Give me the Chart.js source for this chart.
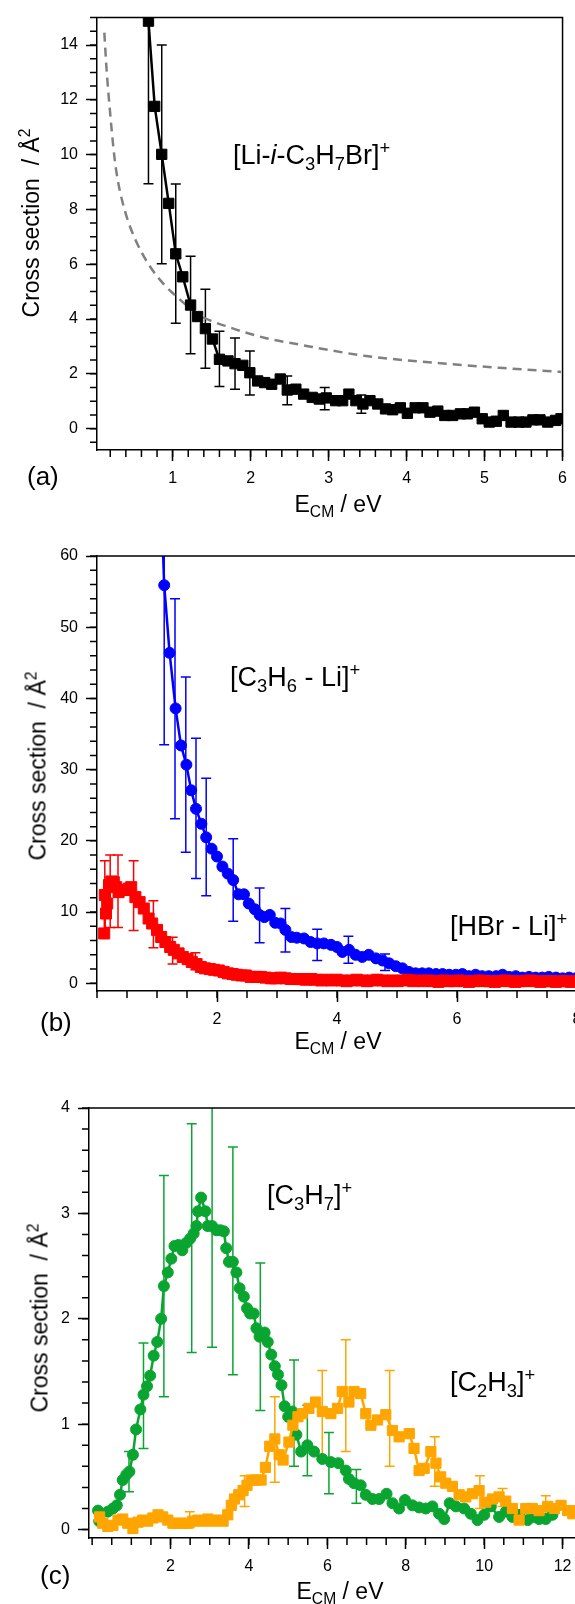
<!DOCTYPE html>
<html>
<head>
<meta charset="utf-8">
<script src="https://cdn.jsdelivr.net/npm/chart.js@4.4.0/dist/chart.umd.min.js"></script>
<style>
  body { margin: 0; width: 575px; height: 1604px; overflow: hidden; position: relative; background: #fff; }
  canvas { position: absolute; left: 0; }
  .t { position: absolute; font-family: 'Liberation Sans', Arial, sans-serif; color: #000; white-space: nowrap; line-height: 1; }
  .ann { font-size: 27px; }
  .ttl { font-size: 23px; }
  .lbl { font-size: 26px; }
  .sb { position: relative; top: 0.3em; font-size: 0.68em; }
  .sp { position: relative; top: -0.55em; font-size: 0.68em; }
  .ytl { transform: translate(-50%, -50%) rotate(-90deg); }
  .xtl { transform: translateX(-50%); }
</style>
</head>
<body>
<canvas id="ca" width="575" height="520" style="top:0"></canvas>
<canvas id="cb" width="640" height="540" style="top:520px"></canvas>
<canvas id="cc" width="660" height="544" style="top:1060px"></canvas>

<!-- panel (a) texts -->
<div class="t ann" style="left:233px;top:142px">[Li-<i>i</i>-C<span class="sb">3</span>H<span class="sb">7</span>Br]<span class="sp">+</span></div>
<div class="t ttl ytl" style="left:31px;top:223px">Cross section&nbsp; / Å<span class="sp">2</span></div>
<div class="t ttl xtl" style="left:338px;top:493px">E<span class="sb">CM</span> / eV</div>
<div class="t lbl" style="left:27px;top:463px">(a)</div>

<!-- panel (b) texts -->
<div class="t ann" style="left:230px;top:664px">[C<span class="sb">3</span>H<span class="sb">6</span> - Li]<span class="sp">+</span></div>
<div class="t ann" style="left:450px;top:913px">[HBr - Li]<span class="sp">+</span></div>
<div class="t ttl ytl" style="left:38px;top:766px">Cross section&nbsp; / Å<span class="sp">2</span></div>
<div class="t ttl xtl" style="left:338px;top:1030px">E<span class="sb">CM</span> / eV</div>
<div class="t lbl" style="left:40px;top:1009px">(b)</div>

<!-- panel (c) texts -->
<div class="t ann" style="left:267px;top:1182px">[C<span class="sb">3</span>H<span class="sb">7</span>]<span class="sp">+</span></div>
<div class="t ann" style="left:450px;top:1369px">[C<span class="sb">2</span>H<span class="sb">3</span>]<span class="sp">+</span></div>
<div class="t ttl ytl" style="left:40px;top:1318px">Cross section&nbsp; / Å<span class="sp">2</span></div>
<div class="t ttl xtl" style="left:340px;top:1580px">E<span class="sb">CM</span> / eV</div>
<div class="t lbl" style="left:40px;top:1562px">(c)</div>

<script>
// ---------- panel (a): [Li-i-C3H7Br]+ ----------
const eA = [0.69,0.77,0.86,0.95,1.04,1.13,1.23,1.32,1.42,1.51,1.60,1.71,1.80,1.90,1.99,2.09,2.18,2.27,2.38,2.47,
  2.58,2.68,2.79,2.88,2.97,3.09,3.18,3.26,3.35,3.44,3.53,3.63,3.73,3.82,3.92,4.01,4.11,4.21,4.30,4.40,
  4.49,4.59,4.69,4.78,4.87,4.97,5.06,5.15,5.24,5.34,5.44,5.53,5.62,5.71,5.81,5.91,5.98];
const sA = [14.87,11.76,10.01,8.22,6.38,5.54,4.51,4.09,3.65,3.27,2.53,2.47,2.37,2.31,2.04,1.74,1.68,1.62,1.81,1.41,
  1.44,1.26,1.14,1.08,1.12,1.02,1.02,1.26,1.02,0.90,1.02,0.90,0.72,0.69,0.76,0.56,0.76,0.76,0.60,0.64,
  0.48,0.48,0.54,0.54,0.60,0.36,0.24,0.27,0.48,0.24,0.24,0.24,0.32,0.32,0.24,0.30,0.36];
const errXA  = [0.69,0.86,1.04,1.23,1.42,1.60,1.80,1.99,2.47,2.95,3.42];
const errLoA = [8.94,6.02,3.85,2.73,2.20,1.54,1.44,1.23,0.87,0.69,0.56];
const errHiA = [20.8,14.0,8.93,6.29,5.09,3.55,3.31,2.83,1.92,1.50,1.23];
const eFitA = [0.124,0.154,0.188,0.25,0.295,0.403,0.53,0.70,0.915,1.0,1.34,1.77,2.20,2.62,3.48,4.33,5.19,5.98];
const sFitA = [14.45,13.06,11.86,10.0,9.09,7.8,6.85,5.96,5.18,4.95,4.15,3.66,3.3,3.07,2.65,2.41,2.22,2.07];
const xTicksA = [1,2,3,4,5,6];
const yTicksA = [0,2,4,6,8,10,12,14];

// ---------- panel (b): [C3H6-Li]+ (blue), [HBr-Li]+ (red) ----------
const eBlue = [1.06,1.12,1.21,1.31,1.40,1.49,1.57,1.65,1.74,1.82,1.91,2.00,2.09,2.18,2.27,2.36,2.45,2.53,2.63,2.71,
  2.79,2.88,2.97,3.06,3.14,3.24,3.33,3.45,3.56,3.67,3.78,3.90,4.00,4.09,4.20,4.31,4.42,4.53,4.65,4.76,
  4.87,4.98,5.09,5.20,5.31,5.42,5.53,5.65,5.76,5.87,5.98,6.09,6.20,6.31,6.42,6.53,6.65,6.76,6.87,6.98,
  7.09,7.20,7.31,7.42,7.53,7.65,7.76,7.87,7.98,8.09];
const sBlue = [70,55.9,46.4,38.6,33.4,30.7,27.1,24.5,22.4,20.5,18.9,17.8,16.4,15.4,14.5,12.5,12.5,11.2,10.4,9.6,
  9.3,9.6,8.5,8.4,7.5,6.5,6.4,6.3,5.8,5.6,5.6,5.4,5.1,4.4,4.7,4.0,3.7,4.0,3.5,3.2,
  2.8,2.4,2.1,1.6,1.4,1.4,1.4,1.3,1.3,1.2,1.2,1.3,1.0,1.2,1.0,1.0,1.0,1.2,0.9,1.0,
  0.8,0.9,0.8,0.8,0.9,0.8,0.7,0.8,0.7,0.7];
const errXBlue  = [1.12,1.30,1.48,1.65,1.82,2.27,2.71,3.14,3.67,4.19,4.80];
const errLoBlue = [33.5,23.1,18.4,14.7,12.3,8.7,5.7,4.4,3.2,2.8,1.8];
const errHiBlue = [78,54.0,43.0,34.4,28.8,20.3,13.4,10.5,7.6,6.6,4.1];

const eRed = [0.12,0.13,0.15,0.17,0.20,0.24,0.28,0.32,0.36,0.42,0.48,0.53,0.57,0.64,0.71,0.78,0.86,0.92,1.00,1.07,
  1.14,1.22,1.28,1.36,1.43,1.51,1.58,1.66,1.73,1.80,1.88,1.95,2.03,2.11,2.18,2.26,2.33,2.41,2.48,2.56,
  2.65,2.73,2.81,2.90,2.98,3.06,3.14,3.23,3.31,3.40,3.48,3.57,3.65,3.74,3.82,3.91,3.99,4.08,4.16,
  4.25,4.33,4.42,4.50,4.59,4.67,4.76,4.84,4.93,5.01,5.10,5.18,5.27,5.35,5.44,5.52,5.61,5.69,5.78,5.86,
  5.95,6.03,6.12,6.20,6.29,6.37,6.46,6.54,6.63,6.71,6.80,6.88,6.97,7.05,7.14,7.22,7.31,7.39,7.48,7.56,
  7.65,7.73,7.82,7.90,7.99,8.07];
const sRed = [7.0,12.4,9.8,11.2,13.8,14.3,14.2,13.5,12.8,13.1,13.1,13.3,13.5,12.1,11.4,10.5,9.1,8.4,7.5,6.5,
  5.8,5.1,4.7,4.2,3.7,3.4,3.0,2.7,2.3,2.1,2.0,1.9,1.8,1.6,1.4,1.3,1.2,1.1,1.1,0.9,
  0.9,0.9,0.8,0.7,0.7,0.8,0.7,0.6,0.6,0.6,0.5,0.6,0.5,0.4,0.5,0.4,0.5,0.4,0.3,
  0.4,0.5,0.4,0.3,0.4,0.5,0.4,0.3,0.4,0.3,0.4,0.5,0.3,0.4,0.3,0.4,0.3,0.2,0.4,0.3,
  0.3,0.4,0.3,0.2,0.3,0.4,0.3,0.3,0.2,0.3,0.4,0.3,0.2,0.3,0.3,0.4,0.3,0.2,0.3,0.3,
  0.2,0.3,0.3,0.2,0.3,0.3];
const errXRed  = [0.13,0.22,0.35,0.61,0.94,1.26,1.64];
const errLoRed = [7.6,7.85,7.85,7.4,5.0,2.7,1.9];
const errHiRed = [17.2,18.0,18.0,17.2,11.6,6.45,4.3];
const xTicksB = [2,4,6,8];
const yTicksB = [0,10,20,30,40,50,60];

// ---------- panel (c): [C3H7]+ (green), [C2H3]+ (orange) ----------
const eGreen = [0.15,0.18,0.40,0.53,0.63,0.71,0.78,0.87,0.95,1.04,1.12,1.23,1.31,1.40,1.48,1.57,1.66,1.76,1.83,1.93,
  2.02,2.10,2.20,2.30,2.40,2.50,2.59,2.66,2.70,2.78,2.89,2.95,3.06,3.17,3.27,3.36,3.42,3.49,3.59,3.68,
  3.76,3.87,3.95,4.03,4.12,4.19,4.27,4.40,4.48,4.57,4.66,4.74,4.83,4.91,5.00,5.11,5.21,5.33,5.49,5.66,
  5.87,6.09,6.28,6.47,6.55,6.68,6.85,6.98,7.15,7.32,7.51,7.66,7.83,7.98,8.17,8.34,8.51,8.68,8.85,8.98,
  9.12,9.28,9.49,9.66,9.83,10.00,10.17,10.38,10.55,10.72,10.89,11.11,11.28,11.40,11.57,11.74];
const sGreen = [0.18,0.08,0.17,0.20,0.23,0.33,0.47,0.52,0.55,0.71,0.95,1.14,1.28,1.36,1.46,1.65,1.78,2.00,2.31,2.44,
  2.57,2.69,2.70,2.65,2.72,2.76,2.81,2.88,3.02,3.15,3.02,2.88,2.88,2.84,2.84,2.83,2.67,2.54,2.54,2.44,
  2.29,2.21,2.10,2.05,2.05,1.91,1.83,1.87,1.78,1.66,1.55,1.47,1.37,1.17,1.07,1.12,0.90,0.74,0.80,0.74,
  0.67,0.64,0.63,0.56,0.48,0.44,0.42,0.33,0.29,0.29,0.34,0.25,0.20,0.28,0.23,0.21,0.20,0.22,0.15,0.10,
  0.25,0.22,0.20,0.15,0.09,0.14,0.22,0.12,0.17,0.12,0.14,0.09,0.12,0.10,0.10,0.14];
const errXGreen  = [0.94,1.31,1.83,2.54,3.06,3.59,4.29,5.15,5.49,6.04,6.74];
const errLoGreen = [0.36,0.77,1.26,1.68,1.73,1.47,1.13,0.60,0.51,0.34,0.25];
const errHiGreen = [0.74,1.77,3.36,3.85,4.10,3.63,2.53,1.61,1.18,0.92,0.57];

const eOrange = [0.19,0.27,0.40,0.53,0.66,0.78,0.91,1.04,1.17,1.29,1.42,1.55,1.68,1.80,1.93,2.06,2.19,2.31,2.44,2.57,
  2.70,2.83,2.95,3.08,3.21,3.34,3.46,3.55,3.63,3.74,3.85,3.95,4.06,4.19,4.31,4.42,4.53,4.66,4.77,4.87,
  5.02,5.12,5.25,5.36,5.53,5.70,5.87,6.09,6.26,6.38,6.55,6.68,6.85,6.98,7.11,7.28,7.49,7.66,7.83,8.09,
  8.21,8.34,8.47,8.64,8.77,8.89,9.02,9.19,9.36,9.53,9.70,9.87,10.04,10.21,10.38,10.55,10.72,10.89,11.06,11.23,
  11.40,11.62,11.79,11.96,12.13,12.26,12.40];
const sOrange = [0.12,0.06,0.03,0.04,0.09,0.10,0.06,0.01,0.07,0.09,0.08,0.11,0.14,0.12,0.09,0.06,0.06,0.06,0.06,0.08,
  0.09,0.08,0.10,0.08,0.09,0.08,0.14,0.23,0.29,0.33,0.37,0.42,0.47,0.47,0.47,0.59,0.79,0.86,0.71,0.66,
  0.83,0.99,1.07,1.10,1.15,1.21,1.12,1.10,1.15,1.31,1.21,1.31,1.29,1.10,0.99,1.04,1.09,0.94,0.88,0.91,
  0.77,0.56,0.58,0.74,0.63,0.50,0.44,0.41,0.33,0.31,0.34,0.37,0.26,0.29,0.31,0.27,0.20,0.09,0.20,0.20,
  0.18,0.22,0.20,0.23,0.18,0.15,0.18];
const errXOrange  = [2.49,3.89,4.66,5.87,6.47,7.59,8.74,9.89,10.47,11.57];
const errLoOrange = [0.02,0.22,0.45,0.69,0.74,0.60,0.41,0.20,0.22,0.14];
const errHiOrange = [0.17,0.51,1.26,1.51,1.80,1.51,0.88,0.51,0.39,0.32];
const xTicksC = [2,4,6,8,10,12,14];
const yTicksC = [0,1,2,3,4];

// ---------- helpers ----------
Chart.defaults.font.family = "'Liberation Sans', Arial, sans-serif";
Chart.defaults.font.size = 16;
Chart.defaults.color = '#000';

const xy = (xs, ys) => xs.map((x, i) => ({ x, y: ys[i] }));

const errorBars = {
  id: 'errorBars',
  beforeDatasetsDraw(chart) {
    const { ctx, chartArea: a, scales: { x, y } } = chart;
    ctx.save();
    ctx.beginPath();
    ctx.rect(a.left, a.top, a.right - a.left, a.bottom - a.top);
    ctx.clip();
    chart.data.datasets.forEach(ds => {
      if (!ds.errX) return;
      ctx.strokeStyle = ds.borderColor;
      ctx.lineWidth = 1.5;
      ds.errX.forEach((ex, i) => {
        const px = x.getPixelForValue(ex);
        const y1 = y.getPixelForValue(ds.errLo[i]);
        const y2 = y.getPixelForValue(ds.errHi[i]);
        ctx.beginPath();
        ctx.moveTo(px, y1); ctx.lineTo(px, y2);
        ctx.moveTo(px - 5, y1); ctx.lineTo(px + 5, y1);
        ctx.moveTo(px - 5, y2); ctx.lineTo(px + 5, y2);
        ctx.stroke();
      });
    });
    ctx.restore();
  }
};

// minor ticks and the top/right frame lines
const frame = {
  id: 'frame',
  afterDraw(chart, args, opts) {
    const { ctx, chartArea: a, scales: { x, y } } = chart;
    ctx.save();
    ctx.strokeStyle = '#000';
    ctx.lineWidth = 1.5;
    ctx.beginPath();
    for (let i = Math.ceil(x.min / opts.x); i * opts.x <= x.max + 1e-9; i++) {
      const px = x.getPixelForValue(i * opts.x);
      ctx.moveTo(px, a.bottom); ctx.lineTo(px, a.bottom + 7);
    }
    for (let i = Math.ceil(y.min / opts.y); i * opts.y <= y.max + 1e-9; i++) {
      const py = y.getPixelForValue(i * opts.y);
      ctx.moveTo(a.left, py); ctx.lineTo(a.left - 7, py);
    }
    ctx.moveTo(a.left, a.top); ctx.lineTo(a.right, a.top); ctx.lineTo(a.right, a.bottom);
    ctx.stroke();
    ctx.restore();
  }
};

function axis(min, max, ticks, fit) {
  return {
    type: 'linear', min, max,
    afterBuildTicks: s => { s.ticks = ticks.map(v => ({ value: v })); },
    afterFit: fit,
    ticks: { autoSkip: false, maxRotation: 0, padding: 8, color: '#000' },
    grid: { drawOnChartArea: false, tickLength: 11, tickWidth: 1.5, tickColor: '#000' },
    border: { width: 1.5, color: '#000' }
  };
}

function makeChart(id, datasets, o) {
  return new Chart(document.getElementById(id), {
    type: 'scatter',
    data: { datasets },
    options: {
      responsive: false,
      animation: false,
      layout: { autoPadding: false, padding: { left: 0, top: o.top, right: o.right, bottom: 0 } },
      scales: {
        x: axis(o.xmin, o.xmax, o.xticks, s => { s.height = o.xh; }),
        y: axis(o.ymin, o.ymax, o.yticks, s => { s.width = o.yw; })
      },
      plugins: { legend: { display: false }, tooltip: { enabled: false }, frame: { x: o.xminor, y: o.yminor } }
    },
    plugins: [errorBars, frame]
  });
}

// ---------- charts ----------
makeChart('ca', [
  {
    data: xy(eA, sA), showLine: true, borderColor: '#000', backgroundColor: '#000', borderWidth: 2.5,
    pointStyle: 'rect', pointRadius: 7.3, pointBorderWidth: 1,
    errX: errXA, errLo: errLoA, errHi: errHiA
  },
  {
    data: xy(eFitA, sFitA), showLine: true, borderColor: '#808080', borderWidth: 2.5,
    borderDash: [9, 6], pointRadius: 0, cubicInterpolationMode: 'monotone'
  }
], { top: 13, right: 12, xh: 70, yw: 97, xmin: 0.03, xmax: 6, ymin: -0.78, ymax: 15,
     xticks: xTicksA, yticks: yTicksA, xminor: 0.2, yminor: 0.5 });

makeChart('cb', [
  {
    data: xy(eRed, sRed), showLine: true, borderColor: '#ff0000', backgroundColor: '#ff0000', borderWidth: 2.5,
    pointStyle: 'rect', pointRadius: 7.8, pointBorderWidth: 1,
    errX: errXRed, errLo: errLoRed, errHi: errHiRed
  },
  {
    data: xy(eBlue, sBlue), showLine: true, borderColor: '#0000ff', backgroundColor: '#0000ff', borderWidth: 2.5,
    pointStyle: 'circle', pointRadius: 5.5, pointBorderWidth: 1,
    errX: errXBlue, errLo: errLoBlue, errHi: errHiBlue
  }
], { top: 36, right: 63, xh: 69, yw: 97, xmin: 0, xmax: 8, ymin: -1.08, ymax: 60,
     xticks: xTicksB, yticks: yTicksB, xminor: 0.5, yminor: 2 });

makeChart('cc', [
  {
    data: xy(eOrange, sOrange), showLine: true, borderColor: '#ffa500', backgroundColor: '#ffa500', borderWidth: 2.5,
    pointStyle: 'rect', pointRadius: 7.2, pointBorderWidth: 1,
    errX: errXOrange, errLo: errLoOrange, errHi: errHiOrange
  },
  {
    data: xy(eGreen, sGreen), showLine: true, borderColor: '#0aa530', backgroundColor: '#0aa530', borderWidth: 2.5,
    pointStyle: 'circle', pointRadius: 5.5, pointBorderWidth: 1,
    errX: errXGreen, errLo: errLoGreen, errHi: errHiGreen
  }
], { top: 48, right: 19, xh: 66, yw: 89, xmin: -0.08, xmax: 14, ymin: -0.08, ymax: 4,
     xticks: xTicksC, yticks: yTicksC, xminor: 0.5, yminor: 0.2 });
</script>
</body>
</html>
